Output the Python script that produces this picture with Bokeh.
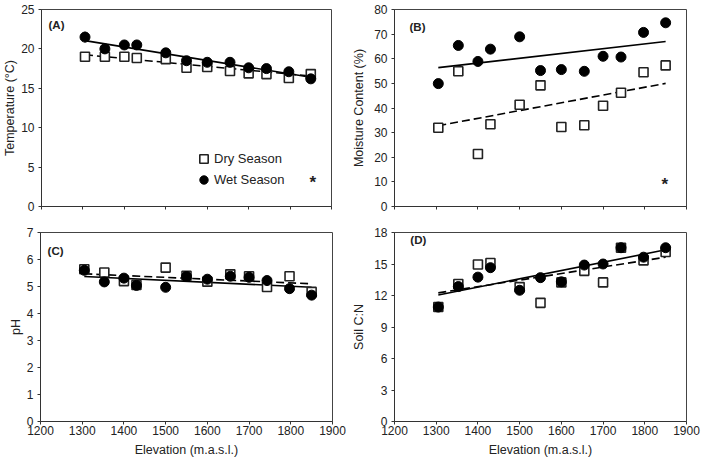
from bokeh.plotting import figure
from bokeh.models import Range1d, FixedTicker, Label, Legend, LegendItem
from bokeh.layouts import row, column
from bokeh.embed import file_html
from bokeh.resources import INLINE

# ---------------- data ----------------
elevation = [1305, 1353, 1400, 1430, 1500, 1550, 1600, 1655, 1700, 1743, 1797, 1850]

temp_dry = [19.0, 19.0, 19.0, 18.85, 18.7, 17.6, 17.7, 17.2, 16.9, 16.8, 16.3, 16.8]
temp_wet = [21.5, 20.0, 20.5, 20.5, 19.5, 18.5, 18.3, 18.3, 17.6, 17.5, 17.1, 16.2]
temp_wet_err = [0.7, 0, 0, 0, 0, 0, 0, 0, 0, 0, 0, 0]

moist_dry = [32.0, 54.9, 21.3, 33.4, 41.3, 49.2, 32.3, 33.0, 40.9, 46.2, 54.5, 57.3]
moist_wet = [49.9, 65.4, 58.9, 63.9, 68.9, 55.2, 55.6, 54.9, 61.0, 60.7, 70.7, 74.6]

ph_dry = [5.64, 5.52, 5.20, 5.06, 5.70, 5.40, 5.18, 5.45, 5.38, 4.98, 5.38, 4.80]
ph_wet = [5.60, 5.17, 5.31, 5.04, 4.97, 5.37, 5.27, 5.38, 5.34, 5.22, 4.92, 4.68]

cn_dry = [10.9, 13.1, 14.95, 15.1, 12.8, 11.3, 13.25, 14.35, 13.25, 16.55, 15.35, 16.15]
cn_wet = [10.9, 12.85, 13.75, 14.65, 12.5, 13.7, 13.3, 14.9, 15.0, 16.55, 15.65, 16.55]

# trend lines (end values at lowest and highest site)
trend_x = [1305, 1850]
trend_temp_wet = [21.05, 16.4]
trend_temp_dry = [19.25, 16.55]
trend_moist_wet = [56.4, 67.0]
trend_moist_dry = [32.8, 50.0]
trend_ph_wet = [5.37, 4.97]
trend_ph_dry = [5.47, 5.10]
trend_cn_wet = [12.05, 16.35]
trend_cn_dry = [12.25, 15.65]

x_ticks = [1200, 1300, 1400, 1500, 1600, 1700, 1800, 1900]

FONT = "Liberation Sans"
DARK = "#222222"


def make_panel(w, h, ymax, ystep, ylabel, bl, br, bt, bb, bottom_labels, tag,
               dry, wet, tdry, twet, tag_xy, ylab_standoff, wet_err=None):
    p = figure(width=w, height=h, x_range=Range1d(1200, 1900), y_range=Range1d(0, ymax),
               output_backend="svg", toolbar_location=None,
               min_border_left=bl, min_border_right=br, min_border_top=bt, min_border_bottom=bb)
    p.xgrid.grid_line_color = None
    p.ygrid.grid_line_color = None
    p.outline_line_color = "#444444"
    p.outline_line_width = 1
    p.background_fill_color = "white"
    p.border_fill_color = "white"

    for ax in (p.xaxis[0], p.yaxis[0]):
        ax.axis_line_color = "#333333"
        ax.major_tick_line_color = "#333333"
        ax.major_tick_in = 0
        ax.major_tick_out = 3
        ax.minor_tick_line_color = None
        ax.major_label_text_font = FONT
        ax.major_label_text_font_size = "12px"
        ax.major_label_text_color = DARK
        ax.axis_label_text_font = FONT
        ax.axis_label_text_font_size = "12.5px"
        ax.axis_label_text_font_style = "normal"
        ax.axis_label_text_color = DARK

    p.xaxis.ticker = FixedTicker(ticks=x_ticks)
    p.yaxis.ticker = FixedTicker(ticks=list(range(0, ymax + 1, ystep)))
    p.yaxis.axis_label = ylabel
    p.yaxis.major_label_standoff = 4
    p.yaxis.axis_label_standoff = ylab_standoff
    if bottom_labels:
        p.xaxis.axis_label = "Elevation (m.a.s.l.)"
        p.xaxis.major_label_standoff = 1
        p.xaxis.axis_label_standoff = 5
    else:
        # tick marks only, no tick labels on the upper panels
        p.xaxis.major_label_text_color = None
        p.xaxis.major_label_text_font_size = "2px"
        p.xaxis.major_label_standoff = 0

    p.line(trend_x, twet, line_color="black", line_width=1.6)
    p.line(trend_x, tdry, line_color="black", line_width=1.6, line_dash="8 4")
    if wet_err is not None:
        lo = [v - e for v, e in zip(wet, wet_err)]
        hi = [v + e for v, e in zip(wet, wet_err)]
        p.segment(x0=elevation, y0=lo, x1=elevation, y1=hi, line_color="black", line_width=1)
    r_dry = p.scatter(elevation, dry, marker="square", size=9, fill_color="white",
                      line_color="#222222", line_width=1.6)
    r_wet = p.scatter(elevation, wet, marker="circle", size=10, fill_color="black",
                      line_color="black")

    p.add_layout(Label(x=tag_xy[0], y=tag_xy[1], text=tag, text_font=FONT,
                       text_font_size="11.5px", text_font_style="bold", text_color=DARK,
                       text_baseline="middle", text_align="left"))
    return p, r_dry, r_wet


pA, rA_dry, rA_wet = make_panel(347, 222, 25, 5, "Temperature (°C)", 40, 16, 9, 14, False, "(A)",
                                temp_dry, temp_wet, trend_temp_dry, trend_temp_wet,
                                (1217, 23.0), 1, wet_err=temp_wet_err)
pB, _, _ = make_panel(354, 222, 80, 10, "Moisture Content (%)", 47, 15, 7, 16, False, "(B)",
                      moist_dry, moist_wet, trend_moist_dry, trend_moist_wet, (1236, 72.9), 5)
pC, _, _ = make_panel(347, 238, 7, 1, "pH", 40, 15, 10, 39, True, "(C)",
                      ph_dry, ph_wet, trend_ph_dry, trend_ph_wet, (1217, 6.31), 1)
pD, _, _ = make_panel(354, 238, 18, 3, "Soil C:N", 47, 15, 10, 39, True, "(D)",
                      cn_dry, cn_wet, trend_cn_dry, trend_cn_wet, (1238, 17.25), 5)

legend = Legend(items=[LegendItem(label="Dry Season", renderers=[rA_dry]),
                       LegendItem(label="Wet Season", renderers=[rA_wet])],
                location=(152, 16), padding=0, margin=0, spacing=0,
                glyph_width=21, glyph_height=21, label_height=21, label_standoff=-2,
                label_text_font=FONT, label_text_font_size="13px", label_text_color=DARK,
                border_line_color=None, background_fill_alpha=0)
pA.add_layout(legend)

pA.add_layout(Label(x=1855, y=3.1, text="*", text_font=FONT, text_font_size="17px",
                    text_font_style="bold", text_color=DARK, text_align="center",
                    text_baseline="middle"))
pB.add_layout(Label(x=1848, y=9.1, text="*", text_font=FONT, text_font_size="17px",
                    text_font_style="bold", text_color=DARK, text_align="center",
                    text_baseline="middle"))

layout = column(row(pA, pB), row(pC, pD))

open("out.html", "w").write(file_html(layout, INLINE))
